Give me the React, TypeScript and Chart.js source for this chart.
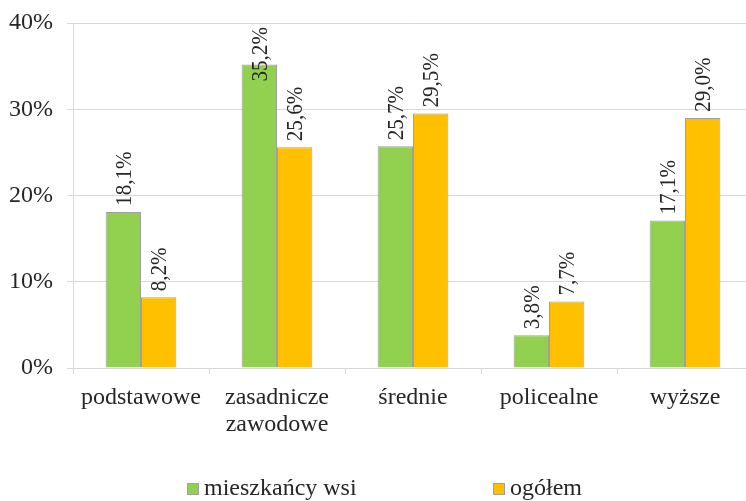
import React, { useEffect, useRef } from "react";
import { Chart, registerables } from "chart.js";

Chart.register(...registerables);

const categories: (string | string[])[] = [
  "podstawowe",
  ["zasadnicze", "zawodowe"],
  "średnie",
  "policealne",
  "wyższe",
];
const seriesNames = ["mieszkańcy wsi", "ogółem"];
const ruralValues = [18.1, 35.2, 25.7, 3.8, 17.1];
const totalValues = [8.2, 25.6, 29.5, 7.7, 29.0];
const yTicks = [0, 10, 20, 30, 40];

const GREEN = "#92D050";
const ORANGE = "#FFC000";
const BORDER = "#A0A0A0";
const GRID = "#D9D9D9";
const TEXT = "#262626";
const FONT = "'Liberation Serif', 'Times New Roman', serif";

const fmt = (v: number) => v.toFixed(1).replace(".", ",") + "%";

const labelPlugin = {
  id: "rotLabels",
  afterDatasetsDraw(chart: any) {
    const ctx = chart.ctx;
    const area = chart.chartArea;
    ctx.save();
    ctx.font = `24px ${FONT}`;
    ctx.fillStyle = TEXT;
    const sx = 0.88;
    chart.data.datasets.forEach((ds: any, di: number) => {
      const meta = chart.getDatasetMeta(di);
      meta.data.forEach((el: any, i: number) => {
        const text = fmt(ds.data[i]);
        const len = ctx.measureText(text).width * sx;
        let bottom = el.y - 6;
        if (bottom - len < area.top + 4) bottom = area.top + 4 + len;
        ctx.save();
        ctx.translate(el.x + 1, bottom);
        ctx.rotate(-Math.PI / 2);
        ctx.scale(sx, 1);
        ctx.textAlign = "left";
        ctx.textBaseline = "middle";
        ctx.fillText(text, 0, 0);
        ctx.restore();
      });
    });
    ctx.restore();
  },
};

const legendPlugin = {
  id: "customLegend",
  afterDraw(chart: any) {
    const ctx = chart.ctx;
    ctx.save();
    ctx.font = `24px ${FONT}`;
    ctx.textBaseline = "middle";
    ctx.textAlign = "left";
    const y = 489;
    const xs = [187, 493];
    chart.data.datasets.forEach((ds: any, i: number) => {
      const x = xs[i];
      ctx.fillStyle = ds.backgroundColor;
      ctx.fillRect(x + 0.5, y - 5.5, 11, 11);
      ctx.strokeStyle = BORDER;
      ctx.lineWidth = 1;
      ctx.strokeRect(x + 0.5, y - 5.5, 11, 11);
      ctx.fillStyle = TEXT;
      ctx.fillText(ds.label, x + 17, y);
    });
    ctx.restore();
  },
};

export default function App() {
  const ref = useRef<HTMLCanvasElement | null>(null);
  useEffect(() => {
    document.body.style.margin = "0";
    const chart = new Chart(ref.current!, {
      type: "bar",
      data: {
        labels: categories,
        datasets: [
          {
            label: seriesNames[0],
            data: ruralValues,
            backgroundColor: GREEN,
            borderColor: BORDER,
            borderWidth: 1,
          },
          {
            label: seriesNames[1],
            data: totalValues,
            backgroundColor: ORANGE,
            borderColor: BORDER,
            borderWidth: 1,
          },
        ],
      },
      options: {
        animation: false,
        responsive: false,
        maintainAspectRatio: false,
        datasets: { bar: { categoryPercentage: 0.52, barPercentage: 1 } },
        layout: { padding: { top: 23, right: 0, left: 0, bottom: 0 } },
        plugins: {
          legend: { display: false },
          tooltip: { enabled: false },
        },
        scales: {
          x: {
            grid: {
              offset: true,
              drawOnChartArea: false,
              drawTicks: true,
              tickLength: 6,
              color: GRID,
            },
            border: { color: GRID },
            ticks: {
              color: TEXT,
              font: { family: FONT, size: 24, lineHeight: 1.1 },
              padding: 11,
              maxRotation: 0,
              autoSkip: false,
            },
            afterFit: (s: any) => {
              s.height = 133;
              s.paddingLeft = 0;
              s.paddingRight = 0;
            },
          },
          y: {
            min: 0,
            max: 40,
            afterBuildTicks: (s: any) => {
              s.ticks = yTicks.map((v) => ({ value: v }));
            },
            grid: { color: GRID, tickLength: 6, drawTicks: true },
            border: { color: GRID },
            ticks: {
              color: TEXT,
              font: { family: FONT, size: 24 },
              padding: 14,
              callback: (v: any) => v + "%",
            },
            afterFit: (s: any) => {
              s.width = 73;
              s.paddingTop = 0;
              s.paddingBottom = 0;
            },
          },
        },
      },
      plugins: [labelPlugin, legendPlugin],
    });
    return () => chart.destroy();
  }, []);
  return (
    <div style={{ width: 746, height: 501, overflow: "hidden" }}>
      <canvas ref={ref} width={753} height={501} style={{ display: "block" }} />
    </div>
  );
}
